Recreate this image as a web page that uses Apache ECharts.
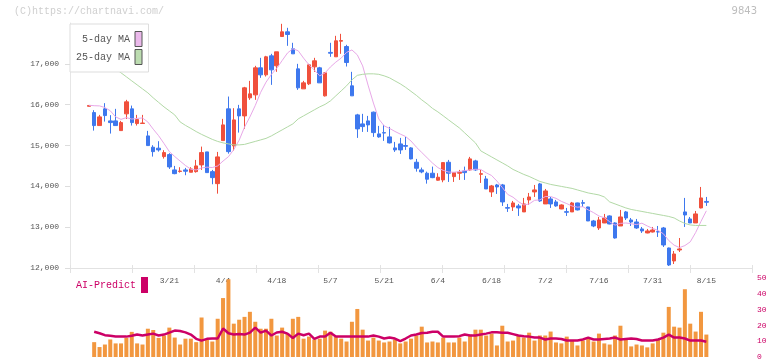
<!DOCTYPE html>
<html><head><meta charset="utf-8">
<script src="https://cdn.jsdelivr.net/npm/echarts@6/dist/echarts.min.js"></script>
<style>html,body{margin:0;padding:0;background:#fff}#c{width:772px;height:361px}</style>
</head><body><div id="c"></div>
<script>
const dates = ['2/27','2/28','3/3','3/4','3/5','3/6','3/7','3/10','3/11','3/12',
'3/13','3/14','3/17','3/18','3/19','3/21','3/24','3/25','3/26','3/27',
'3/28','3/31','4/1','4/2','4/3','4/4','4/7','4/8','4/9','4/10',
'4/11','4/14','4/15','4/16','4/17','4/18','4/21','4/22','4/23','4/24',
'4/25','4/28','4/30','5/1','5/2','5/7','5/8','5/9','5/12','5/13',
'5/14','5/15','5/16','5/19','5/20','5/21','5/22','5/23','5/26','5/27',
'5/28','5/29','5/30','6/2','6/3','6/4','6/5','6/6','6/9','6/10',
'6/11','6/12','6/13','6/16','6/17','6/18','6/19','6/20','6/23','6/24',
'6/25','6/26','6/27','6/30','7/1','7/2','7/3','7/4','7/7','7/8',
'7/9','7/10','7/11','7/14','7/15','7/16','7/17','7/18','7/22','7/23',
'7/24','7/25','7/28','7/29','7/30','7/31','8/1','8/4','8/5','8/6',
'8/7','8/8','8/12','8/13','8/14','8/15'];

const openP = [15960,15806,15488,15897,15603,15603,15365,15775,15897,15537,
15540,15235,14958,14934,14728,14777,14402,14365,14402,14345,
14360,14525,14843,14360,14066,15120,15897,14990,15897,15725,
16167,16240,16902,16730,17196,16951,17669,17784,17368,16877,
16387,16510,16926,16902,16216,17280,17172,17555,17424,16461,
15750,15529,15603,15816,15284,15315,15211,14941,15039,15000,
14941,14590,14402,14321,14321,14150,14157,14590,14238,14321,
14377,14402,14623,14295,14181,13863,14034,14034,13480,13495,
13520,13373,13667,13863,14059,13569,13691,13618,13446,13380,
13373,13593,13600,13495,13152,12980,13103,13275,13103,13029,
13373,13176,13127,12956,12858,12882,12890,12980,12490,12172,
12441,13373,13201,13103,13471,13630];
const closeP = [15980,15488,15701,15733,15561,15488,15561,16069,15561,15635,
15550,14998,14850,14892,14826,14475,14311,14375,14370,14426,
14500,14826,14336,14213,14721,15505,14850,15627,15725,16412,
16265,16902,16730,17172,16853,17294,17784,17718,17245,16412,
16534,16975,17074,16534,16779,17260,17564,17570,17032,16216,
15407,15463,15505,15316,15211,15305,15064,14892,14892,14980,
14672,14443,14353,14174,14213,14223,14581,14321,14336,14345,
14336,14672,14402,14310,13936,14010,13985,13618,13465,13593,
13471,13569,13740,13912,13642,13887,13569,13520,13544,13365,
13593,13422,13585,13152,13029,13176,13225,13078,12735,13250,
13225,13127,12980,12907,12907,12931,12882,12564,12074,12343,
12466,13299,13103,13324,13716,13610];
const lowP = [15960,15365,15488,15586,15292,15488,15365,15650,15488,15488,
15540,14998,14728,14850,14679,14426,14296,14336,14272,14345,
14336,14402,14336,14051,13821,15120,14800,14875,15316,15407,
16118,16118,16657,16689,16485,16804,17669,17441,17245,16363,
16387,16480,16804,16534,16200,17172,17172,17245,16934,16216,
15186,15333,15333,15211,15190,15113,15050,14843,14794,14892,
14660,14360,14321,14066,14200,14140,14100,14108,14108,14157,
14157,14380,14380,14083,13936,13740,13814,13520,13373,13397,
13275,13373,13544,13740,13620,13569,13471,13500,13440,13275,
13373,13410,13495,13150,13000,12931,13100,13070,12720,13029,
13176,13029,12960,12858,12850,12870,12760,12515,12049,12098,
12392,13005,13103,13103,13460,13520];
const highP = [15980,15865,15750,16037,15743,15897,15603,16118,15978,15750,
15750,15358,15007,15105,14885,14811,14500,14468,14451,14468,
14647,14973,14843,14402,14843,15652,16199,15914,15995,16436,
16583,16951,17147,17196,17245,17294,17980,17882,17515,17000,
16583,17000,17147,16926,16800,17515,17686,17735,17466,16804,
15775,15775,15725,15831,15480,15505,15456,15088,15186,15211,
14960,14672,14459,14360,14483,14321,14581,14647,14350,14402,
14483,14721,14650,14402,14255,14034,14059,14059,13569,13642,
13569,13716,13838,14034,14083,13936,13740,13667,13560,13471,
13618,13600,13667,13500,13177,13250,13324,13290,13120,13422,
13397,13225,13201,13005,12956,13005,13029,13005,12500,12417,
12735,13716,13250,13397,13985,13740];

const ma5 = [15985,15975,15970,15930,15850,15700,15640,15682,15648,15663,
15675,15575,15400,15240,15050,14850,14730,14620,14510,14420,
14400,14450,14470,14460,14500,14620,14725,14900,15130,15450,
15700,15980,16300,16550,16740,16890,17080,17265,17370,17320,
17139,16977,16848,16706,16779,16924,17042,17141,17280,17340,
17220,16950,16480,16040,15650,15480,15420,15345,15280,15220,
15110,14960,14830,14700,14570,14460,14390,14350,14345,14361,
14384,14402,14418,14413,14331,14266,14129,13972,13803,13734,
13626,13543,13568,13657,13667,13750,13750,13706,13632,13577,
13518,13489,13502,13423,13356,13273,13233,13132,13049,13093,
13103,13083,13063,13098,13029,12970,12921,12838,12672,12559,
12500,12549,12640,12867,13141,13400];
const ma25 = [17368,17270,17172,17074,16975,16877,16780,16682,16583,16485,
16387,16289,16167,16056,15946,15848,15750,15578,15493,15419,
15341,15272,15211,15150,15100,15064,15039,15015,15015,15027,
15064,15100,15137,15174,15235,15309,15382,15456,15529,15652,
15726,15799,15873,15946,16007,16093,16216,16338,16461,16608,
16718,16743,16755,16755,16743,16706,16657,16583,16510,16424,
16326,16228,16118,16020,15909,15824,15726,15627,15529,15431,
15309,15186,15064,14868,14794,14721,14647,14574,14500,14414,
14353,14292,14242,14181,14120,14083,14047,14022,13998,13973,
13949,13912,13875,13838,13814,13789,13740,13618,13569,13520,
13471,13434,13409,13385,13360,13336,13311,13287,13262,13226,
13152,13091,13054,13042,13042,13042];

const volume = ['-',9.4,6.3,7.9,11.1,8.6,8.6,12.1,15.9,8.6,
7.9,17.9,17.1,12.1,13.6,18.6,12.3,7.9,11.6,11.6,
9.4,25,10.8,9.8,24.2,37.3,49.2,21.1,23.6,25.4,
28.6,22.3,17.9,17.9,24.2,13.6,18.6,14.8,24.2,25.4,
11.6,12.9,11.1,11.6,16.7,16,12.9,11.6,9.8,22.3,
30.4,17.3,10.4,12.3,10.4,9.2,9.8,11.1,8.6,9.8,
11.6,13.6,19.2,9.2,9.8,9.2,12.3,9.2,9.2,12.3,
9.8,14.2,17.3,17.3,13.6,14.8,7.3,19.8,9.8,10.4,
13.6,12.3,15.4,10.4,13.6,13.6,16.1,9.2,8.6,12.9,
10.4,7.3,10.4,11.6,9.8,14.8,8.6,7.9,13.6,19.8,
11.9,6.7,7.9,7.3,6.1,8.6,11.1,15.4,31.7,19.2,
18.6,42.9,21.1,16.1,28.6,14.2];
const aiPredict = ['-',16,15,13.8,13.4,13,12.9,12.9,13.4,14.2,
13.6,14.2,14.8,13.6,14.2,15.4,16.7,16.4,15.6,14.2,
11.5,10.4,11.5,11.7,11.7,18,15,14.2,14.5,14.2,
15.4,18.6,15.4,16.7,13.6,15.5,16,14.8,12,14.8,
13.8,14.8,11.5,12.9,12.9,15.4,12.9,12.9,12.9,12.9,
12.9,12.9,12.9,13.6,12.9,11.7,12.3,11.7,10,11.7,
13.6,14.2,15.2,15.4,16,16,12.9,12.9,12.9,13.2,
14.2,13.6,13.6,14.2,14.8,15.6,15.6,15.4,15.4,14.5,
13.6,13.2,12.9,12.3,12.3,11.1,11.7,11.7,11.4,10.4,
10.4,10.4,11.1,12.3,11.1,11.1,11.4,11.7,12.3,11.1,
11.4,11.7,11.4,10.4,10.4,10.4,11.1,12.3,14.2,12.3,
12.3,11.7,10.4,10.4,10.4,9.6];

const xLabels = ['3/21','4/4','4/18','5/7','5/21','6/4','6/18','7/2','7/16','7/31','8/15'];
const yTicks = [12000,13000,14000,15000,16000,17000];

const MONO = "'Liberation Mono','DejaVu Sans Mono',monospace";
const PAD_L = 3, PAD_R = 8;
const cats = [];
for (let i = 0; i < PAD_L; i++) cats.push('_l' + i);
dates.forEach(d => cats.push(d));
for (let i = 0; i < PAD_R; i++) cats.push('_r' + i);
const lead = Array(PAD_L).fill('-');
const candleData = lead.concat(dates.map((d, i) => [openP[i], closeP[i], lowP[i], highP[i]]));

const chart = echarts.init(document.getElementById('c'), null, {renderer: 'canvas'});
chart.setOption({
  animation: false,
  backgroundColor: '#fff',
  title: [
    {text: '(C)https://chartnavi.com/', left: 14, top: 6, padding: 0,
     textStyle: {fontSize: 10, color: '#cfcfcf', fontWeight: 'normal', fontFamily: MONO}},
    {text: '9843', right: 15, top: 6, padding: 0,
     textStyle: {fontSize: 10, color: '#bdbdbd', fontWeight: 'normal', fontFamily: "'DejaVu Sans',sans-serif"}}
  ],
  legend: [
    {data: ['5-day MA', '25-day MA'], orient: 'vertical', left: 70, top: 24, align: 'right',
     padding: [7, 6, 7, 6], itemGap: 2, itemWidth: 7, itemHeight: 15, icon: 'rect',
     backgroundColor: '#fff', borderColor: '#dddddd', borderWidth: 1, selectedMode: false,
     itemStyle: {borderColor: '#555', borderWidth: 1},
     textStyle: {fontSize: 10, color: '#555', fontFamily: MONO}},
    {data: ['AI-Predict'], left: 76, top: 277, padding: 0, align: 'right', selectedMode: false,
     itemWidth: 7, itemHeight: 16, icon: 'rect', itemStyle: {borderWidth: 0},
     textStyle: {fontSize: 10, color: '#cc0066', fontFamily: MONO}}
  ],
  grid: [
    {left: 70, top: 23, width: 682, height: 245},
    {left: 70, top: 278, width: 682, height: 80}
  ],
  xAxis: [
    {type: 'category', gridIndex: 0, data: cats, boundaryGap: true, position: 'bottom',
     axisLine: {show: false}, axisTick: {show: false}, splitLine: {show: false},
     axisLabel: {interval: (i, v) => xLabels.indexOf(v) >= 0, color: '#555', fontSize: 8, margin: 9, fontFamily: MONO}},
    {type: 'value', gridIndex: 0, min: 0, max: 11, interval: 1, position: 'bottom',
     axisLine: {show: true, lineStyle: {color: '#e2e2e2'}},
     axisTick: {show: true, inside: true, length: 3, lineStyle: {color: '#e2e2e2'}},
     axisLabel: {show: false}, splitLine: {show: false}},
    {type: 'value', gridIndex: 0, min: 0, max: 11, interval: 1, position: 'bottom',
     axisLine: {show: false},
     axisTick: {show: true, length: 5, lineStyle: {color: '#e2e2e2'}},
     axisLabel: {show: false}, splitLine: {show: false}},
    {type: 'category', gridIndex: 1, data: cats, boundaryGap: true, show: false}
  ],
  yAxis: [
    {type: 'value', gridIndex: 0, min: 12000, max: 18000, interval: 1000, position: 'left',
     axisLine: {show: true, lineStyle: {color: '#e6e6e6'}},
     axisTick: {show: true, length: 5, customValues: yTicks, lineStyle: {color: '#dddddd'}},
     axisLabel: {customValues: yTicks, color: '#555', fontSize: 8, margin: 11, fontFamily: MONO},
     splitLine: {show: false}},
    {type: 'value', gridIndex: 1, min: 0, max: 50, interval: 10, position: 'right',
     axisLine: {show: false}, axisTick: {show: false}, splitLine: {show: false},
     axisLabel: {color: '#cc0066', fontSize: 8, margin: 5, fontFamily: MONO}}
  ],
  series: [
    {type: 'candlestick', name: 'price', xAxisIndex: 0, yAxisIndex: 0, data: candleData, barWidth: 4,
     itemStyle: {color: '#f0503c', color0: '#3e78ee', borderColor: '#f0503c', borderColor0: '#3e78ee', borderWidth: 1}},
    {type: 'line', name: '5-day MA', xAxisIndex: 0, yAxisIndex: 0, data: lead.concat(ma5), symbol: 'none',
     lineStyle: {color: '#e8a8e8', width: 1}, itemStyle: {color: '#ebb9eb'}},
    {type: 'line', name: '25-day MA', xAxisIndex: 0, yAxisIndex: 0, data: lead.concat(ma25), symbol: 'none',
     lineStyle: {color: '#b2d9a6', width: 1}, itemStyle: {color: '#bcdcb0'}},
    {type: 'bar', name: 'volume', xAxisIndex: 3, yAxisIndex: 1, data: lead.concat(volume), barWidth: 4,
     itemStyle: {color: '#f2973f'}},
    {type: 'line', name: 'AI-Predict', xAxisIndex: 3, yAxisIndex: 1, data: lead.concat(aiPredict), symbol: 'none',
     lineStyle: {color: '#cc0066', width: 2.5}, itemStyle: {color: '#cc0066'}}
  ]
});
</script></body></html>
